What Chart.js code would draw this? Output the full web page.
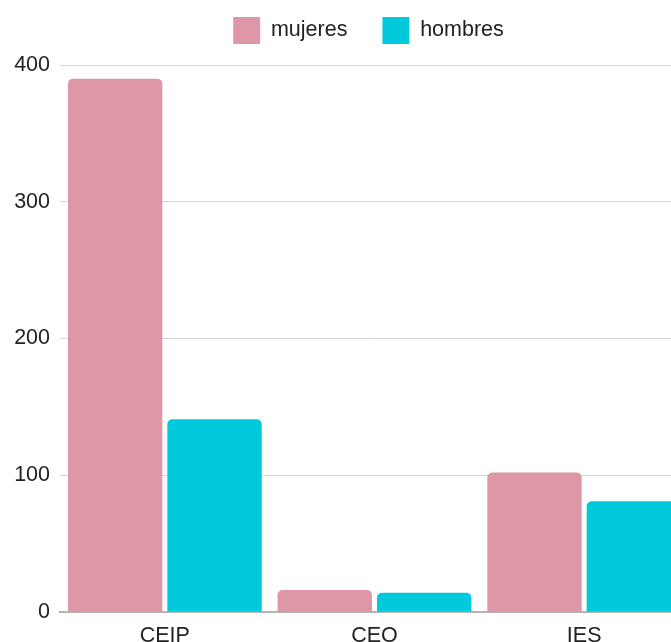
<!DOCTYPE html>
<html>
<head>
<meta charset="utf-8">
<script src="https://cdn.jsdelivr.net/npm/chart.js@4/dist/chart.umd.min.js"></script>
<style>
  html, body { margin: 0; padding: 0; overflow: hidden; background: #fff; }
  #wrap { position: absolute; left: 0; top: 0; width: 700px; height: 660px; }
</style>
</head>
<body>
<div id="wrap"><canvas id="chart"></canvas></div>
<script>
// Alumnado por tipo de centro
const categories = ['CEIP', 'CEO', 'IES'];
const mujeres = [390, 16, 102];
const hombres = [141, 14, 81];
const yTicks = [0, 100, 200, 300, 400];

const FONT = { family: '"Liberation Sans", Arial, sans-serif', size: 21.5 };
const TEXT = '#222222';

// Legend band: fixed height, centred a little left of the plot's middle
const legendPlacement = {
  id: 'legendPlacement',
  beforeInit(chart) {
    const lg = chart.legend;
    if (!lg) return;
    const fit = lg.fit;
    lg.fit = function () {
      fit.call(this);
      this.height = 83;
    };
  },
  afterLayout(chart) {
    const lg = chart.legend;
    if (!lg) return;
    const target = (chart.chartArea.left + chart.chartArea.right) / 2 - 6;
    const shift = target - (lg.left + lg.right) / 2;
    lg.left += shift;
    lg.right += shift;
  }
};

new Chart(document.getElementById('chart'), {
  type: 'bar',
  data: {
    labels: categories,
    datasets: [
      { label: 'mujeres', data: mujeres, backgroundColor: '#de97a6', borderRadius: 5 },
      { label: 'hombres', data: hombres, backgroundColor: '#00c9dc', borderRadius: 5 }
    ]
  },
  options: {
    responsive: true,
    maintainAspectRatio: false,
    animation: false,
    layout: { padding: { top: -18, left: 0, right: 11, bottom: 8 } },
    datasets: { bar: { categoryPercentage: 0.948, barPercentage: 0.95 } },
    plugins: {
      legend: {
        position: 'top',
        align: 'center',
        labels: { boxWidth: 27, boxHeight: 27, padding: 35, color: TEXT, font: FONT }
      },
      tooltip: { enabled: false }
    },
    scales: {
      x: {
        offset: true,
        grid: { display: false, drawTicks: false },
        border: { display: true, color: '#b3b3b3', width: 2 },
        ticks: { color: TEXT, font: FONT, padding: 11 },
        afterFit(scale) { scale.height = 40; }
      },
      y: {
        min: 0,
        max: 400,
        afterBuildTicks(scale) { scale.ticks = yTicks.map(v => ({ value: v })); },
        grid: {
          drawTicks: false,
          color: ctx => (ctx.tick && ctx.tick.value === 0) ? 'rgba(0,0,0,0)' : '#d5d5d5',
          lineWidth: 1
        },
        border: { display: false },
        ticks: { color: TEXT, font: FONT, padding: 10 },
        afterFit(scale) { scale.width = 60; }
      }
    }
  },
  plugins: [legendPlacement]
});
</script>
</body>
</html>
